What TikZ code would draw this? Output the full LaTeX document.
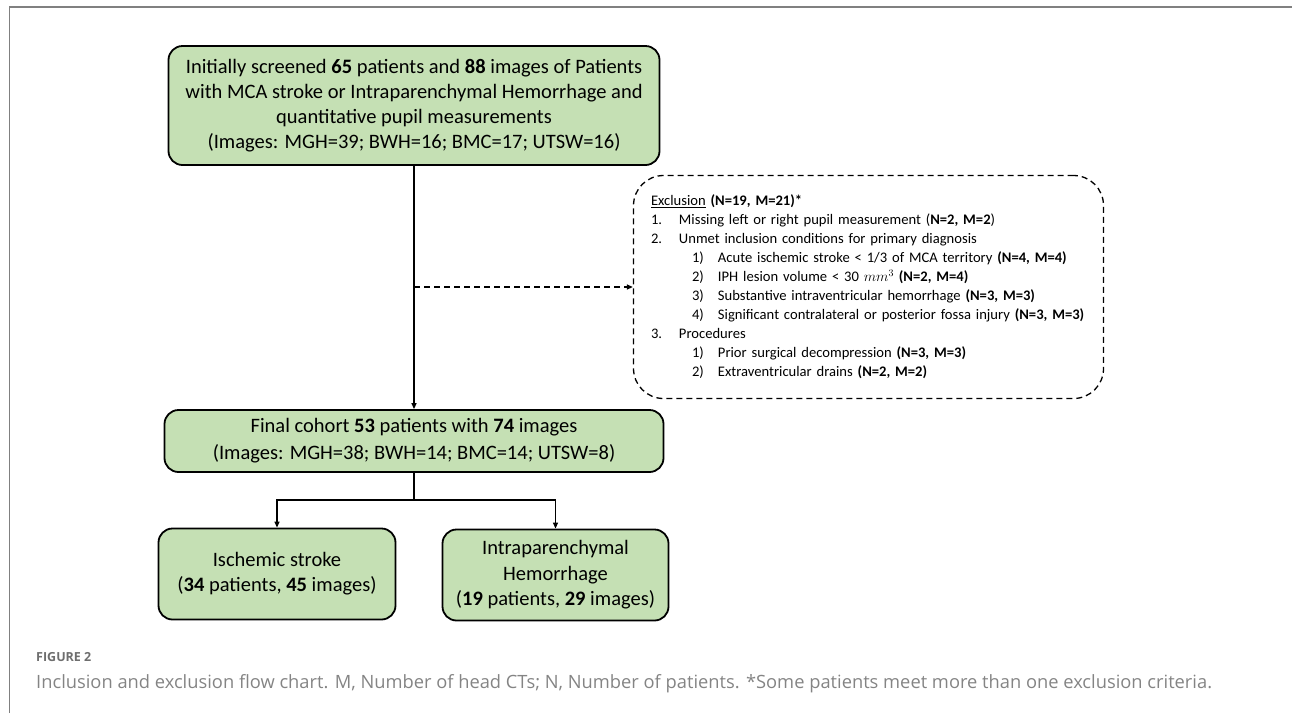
\documentclass[tikz,border=0pt]{standalone}
\usepackage{fontspec}
\setmainfont{Carlito}
\newfontfamily\capfont{Open Sans}
\usetikzlibrary{positioning,arrows.meta}
\definecolor{boxgreen}{RGB}{197,224,180}
\definecolor{capgray}{RGB}{110,110,110}

% list lines of the exclusion box
\newcommand{\exitem}[1]{\makebox[28pt][l]{#1}}
\newcommand{\exsub}[1]{\hspace*{41pt}\makebox[26pt][l]{#1}}

\begin{document}
\begin{tikzpicture}[x=1pt, y=-1pt,
    stage/.style={rectangle, rounded corners=14pt, draw=black, fill=boxgreen, line width=1.8pt,
        align=center, inner sep=0pt, font=\fontsize{20.5}{25}\selectfont},
    exclbox/.style={rectangle, rounded corners=30pt, draw=black, dashed, dash pattern=on 6pt off 4pt,
        line width=1.3pt, inner sep=0pt, align=left, font=\fontsize{14.6}{19}\selectfont},
    link/.style={-{Triangle[length=6pt, width=5pt]}, line width=1.3pt},
]
    \useasboundingbox (0,0) rectangle (1292,713);

    % Frame
    \draw[gray, line width=1.5pt] (9.5,713) -- (9.5,7) -- (1292,7);

    % Nodes
    \node[stage, minimum width=491pt, minimum height=119pt] (screen) at (414,105.5)
        {Initially screened \textbf{65} patients and \textbf{88} images of Patients\\
         with MCA stroke or Intraparenchymal Hemorrhage and\\
         quantitative pupil measurements\\
         (Images: MGH=39; BWH=16; BMC=17; UTSW=16)};

    \node[exclbox, minimum width=470pt, minimum height=223pt, text width=435pt] (exclude) at (868.5,287)
        {\underline{Exclusion} \textbf{(N=19, M=21)*}\\
         \exitem{1.}Missing left or right pupil measurement (\textbf{N=2, M=2})\\
         \exitem{2.}Unmet inclusion conditions for primary diagnosis\\
         \exsub{1)}Acute ischemic stroke < 1/3 of MCA territory \textbf{(N=4, M=4)}\\
         \exsub{2)}IPH lesion volume < 30 $mm^3$ \textbf{(N=2, M=4)}\\
         \exsub{3)}Substantive intraventricular hemorrhage \textbf{(N=3, M=3)}\\
         \exsub{4)}Significant contralateral or posterior fossa injury \textbf{(N=3, M=3)}\\
         \exitem{3.}Procedures\\
         \exsub{1)}Prior surgical decompression \textbf{(N=3, M=3)}\\
         \exsub{2)}Extraventricular drains \textbf{(N=2, M=2)}};

    \node[stage, minimum width=499pt, minimum height=62pt, font=\fontsize{20.5}{27}\selectfont] (cohort) at (414,441)
        {Final cohort \textbf{53} patients with \textbf{74} images\\
         (Images: MGH=38; BWH=14; BMC=14; UTSW=8)};

    \node[stage, minimum width=237pt, minimum height=91pt] (ischemic) at (277,574)
        {Ischemic stroke\\(\textbf{34} patients, \textbf{45} images)};
    \node[stage, minimum width=226pt, minimum height=91pt, font=\fontsize{20.5}{25.5}\selectfont] (hemorrhage) at (555.5,575)
        {Intraparenchymal\\Hemorrhage\\(\textbf{19} patients, \textbf{29} images)};

    % Lines
    \coordinate (tap) at (screen.center |- exclude.west);
    \coordinate (split) at (414,500);

    \draw[link] (screen) -- (cohort);
    \draw[link, dashed, dash pattern=on 6pt off 4pt] (tap) -- (exclude.west);
    \draw[line width=1.3pt] (cohort) -- (split);
    \draw[link] (split) -| (ischemic.north);
    \draw[link] (split) -| (hemorrhage.north);

    % Caption
    \node[anchor=base west, inner sep=0pt, text=capgray, font=\capfont\bfseries\fontsize{12.5}{14}\selectfont]
        (figlabel) at (36,661) {FIGURE 2};
    \node[anchor=base west, inner sep=0pt, text=capgray!85, font=\capfont\fontsize{18.3}{21}\selectfont]
        (figcaption) at (36,688) {Inclusion and exclusion flow chart. M, Number of head CTs; N, Number of patients. *Some patients meet more than one exclusion criteria.};
\end{tikzpicture}
\end{document}
